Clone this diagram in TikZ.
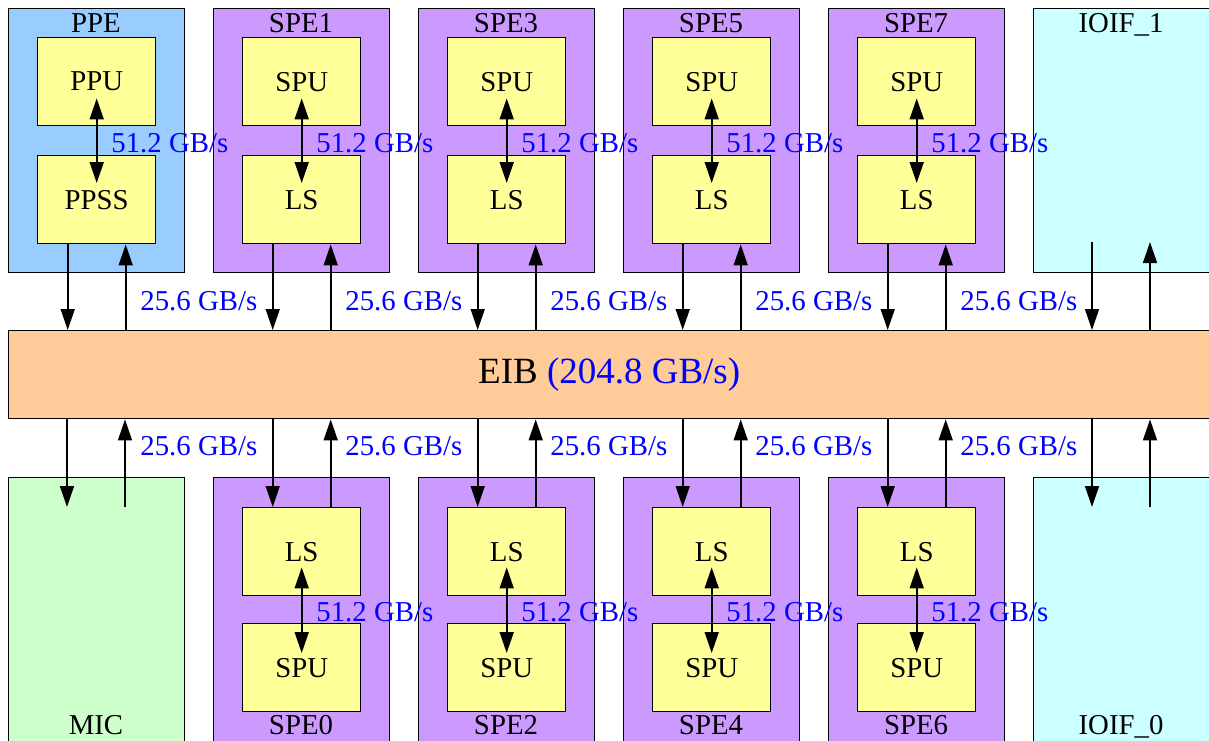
\documentclass[tikz,border=0pt]{standalone}
\usepackage{fontspec}
\setmainfont{Liberation Serif}
\usetikzlibrary{arrows.meta}
\definecolor{ppeblue}{HTML}{99CCFF}
\definecolor{spepurple}{HTML}{CC99FF}
\definecolor{unityellow}{HTML}{FFFF99}
\definecolor{eiborange}{HTML}{FFCC99}
\definecolor{micgreen}{HTML}{CCFFCC}
\definecolor{ioifcyan}{HTML}{CCFFFF}
\definecolor{ratecol}{HTML}{0000FF}
\begin{document}
\begin{tikzpicture}[x=0.5pt,y=-0.5pt,
  box/.style={draw=black, line width=0.7pt, anchor=north west, inner sep=0, minimum width=88pt},
  outer/.style={box, minimum height=132pt},
  outerlow/.style={box, minimum height=136pt},
  unit/.style={box, fill=unityellow, minimum width=59pt, minimum height=44pt, font=\fontsize{14.4}{16}\selectfont},
  title/.style={font=\fontsize{14.4}{16}\selectfont, inner sep=0, anchor=base},
  rate/.style={text=ratecol, font=\fontsize{14.4}{16}\selectfont, inner sep=0, anchor=base west},
  tip/.tip={Triangle[length=10.5pt,width=7pt]},
  arr/.style={line width=0.8pt, -tip},
  dbl/.style={line width=0.8pt, tip-tip}
]
\useasboundingbox (0,0) rectangle (1209,740);
\fill[white] (0,0) rectangle (1209,740);

% EIB bus
\node[box, fill=eiborange, minimum width=600.5pt, minimum height=44pt, font=\fontsize{18.5}{20}\selectfont] (eib) at (8,330) {EIB \textcolor{ratecol}{(204.8 GB/s)}};

% top row
\foreach \i/\nm/\col/\ta/\tb in {0/PPE/ppeblue/PPU/PPSS, 1/SPE1/spepurple/SPU/LS, 2/SPE3/spepurple/SPU/LS, 3/SPE5/spepurple/SPU/LS, 4/SPE7/spepurple/SPU/LS}{
  \pgfmathsetmacro\xo{8+205*\i}
  \node[outer, fill=\col] (top\i) at (\xo,8) {};
  \node[title] (toptitle\i) at (\xo+88,32) {\nm};
  \node[unit] (ta\i) at (\xo+29,37) {\ta};
  \node[unit] (tb\i) at (\xo+29,155) {\tb};
  \draw[dbl] ([yshift=14pt]ta\i.south) -- ([yshift=-14pt]tb\i.north);
  \coordinate (td\i) at ([xshift=-14.5pt]tb\i.south);
  \coordinate (tu\i) at ([xshift=14.5pt]tb\i.south);
  \draw[arr] (td\i) -- (td\i |- eib.north);
  \draw[arr] (tu\i |- eib.north) -- (tu\i);
}

% bottom row
\foreach \i/\nm in {1/SPE0, 2/SPE2, 3/SPE4, 4/SPE6}{
  \pgfmathsetmacro\xo{8+205*\i}
  \node[outerlow, fill=spepurple] (bot\i) at (\xo,477) {};
  \node[title] (bottitle\i) at (\xo+88,734) {\nm};
  \node[unit] (ba\i) at (\xo+29,507) {LS};
  \node[unit] (bb\i) at (\xo+29,623) {SPU};
  \draw[dbl] ([yshift=14.5pt]ba\i.south) -- ([yshift=-15pt]bb\i.north);
  \coordinate (bd\i) at ([xshift=-14.5pt]ba\i.north);
  \coordinate (bu\i) at ([xshift=14.5pt]ba\i.north);
  \draw[arr] (bd\i |- eib.south) -- (bd\i);
  \draw[arr] (bu\i) -- (bu\i |- eib.south);
}

% MIC
\node[outerlow, fill=micgreen] (mic) at (8,477) {};
\node[title] (mictitle) at (96,734) {MIC};
\coordinate (micd) at (67,507);
\coordinate (micu) at (125,507);
\draw[arr] (micd |- eib.south) -- (micd);
\draw[arr] (micu) -- (micu |- eib.south);

% IOIF_1
\node[outer, fill=ioifcyan] (ioif1) at (1033,8) {};
\node[title] (ioif1title) at (1121,32) {IOIF\_1};
\coordinate (i1d) at (1092,242);
\coordinate (i1u) at (1150,242);
\draw[arr] (i1d) -- (i1d |- eib.north);
\draw[arr] (i1u |- eib.north) -- (i1u);

% IOIF_0
\node[outerlow, fill=ioifcyan] (ioif0) at (1033,477) {};
\node[title] (ioif0title) at (1121,734) {IOIF\_0};
\coordinate (i0d) at (1092,507);
\coordinate (i0u) at (1150,507);
\draw[arr] (i0d |- eib.south) -- (i0d);
\draw[arr] (i0u) -- (i0u |- eib.south);

% rate labels
\foreach \i in {0,...,4}{
  \node[rate] (r51t\i) at (111+205*\i,152) {51.2 GB/s};
  \node[rate] (r25t\i) at (140+205*\i,310) {25.6 GB/s};
  \node[rate] (r25b\i) at (140+205*\i,455) {25.6 GB/s};
}
\foreach \i in {1,...,4}{
  \node[rate] (r51b\i) at (111+205*\i,621) {51.2 GB/s};
}
\end{tikzpicture}
\end{document}
